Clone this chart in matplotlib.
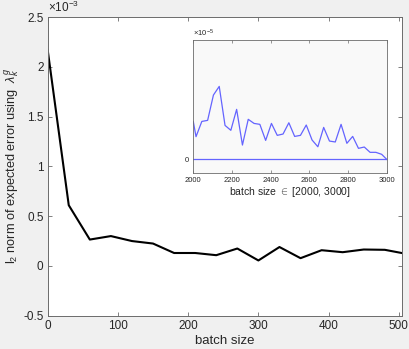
import matplotlib
matplotlib.use("Agg")
import matplotlib.pyplot as plt

plt.rcParams['font.family'] = ['Liberation Sans', 'DejaVu Sans']
plt.rcParams['mathtext.fontset'] = 'custom'
plt.rcParams['mathtext.rm'] = 'Liberation Sans'
plt.rcParams['mathtext.it'] = 'Liberation Sans:italic'

# main series (values in units of 1e-3)
batch_main = [0, 30, 60, 90, 120, 150, 180, 210, 240, 270, 300, 330, 360, 390, 420, 450, 480, 504]
err_main = [2.17, 0.61, 0.265, 0.30, 0.25, 0.225, 0.13, 0.13, 0.108, 0.175, 0.055, 0.19,
            0.078, 0.158, 0.138, 0.165, 0.162, 0.13]
main_xticks = [0, 100, 200, 300, 400, 500]
main_yticks = [-0.5, 0, 0.5, 1, 1.5, 2, 2.5]
main_yticklabels = ['-0.5', '0', '0.5', '1', '1.5', '2', '2.5']

# inset series (values in units of 1e-5)
batch_inset = [2000, 2014, 2044, 2074, 2104, 2134, 2164, 2194, 2224, 2254, 2284, 2314, 2344,
               2374, 2404, 2434, 2464, 2494, 2524, 2554, 2584, 2614, 2644, 2674, 2704, 2734,
               2764, 2794, 2824, 2854, 2884, 2914, 2944, 2974, 3000]
err_inset = [0.284, 0.171, 0.286, 0.294, 0.485, 0.550, 0.256, 0.219, 0.377, 0.108, 0.302,
             0.271, 0.264, 0.143, 0.271, 0.181, 0.191, 0.276, 0.173, 0.181, 0.259, 0.146,
             0.095, 0.241, 0.138, 0.131, 0.264, 0.121, 0.173, 0.083, 0.093, 0.053, 0.053,
             0.038, 0.0]
inset_zero = [0.0, 0.0]
inset_xticks = [2000, 2200, 2400, 2600, 2800, 3000]

fig = plt.figure(figsize=(4.10, 3.49), dpi=100, facecolor='#f0f0f0')
spine_c = '#6b6b6b'

ax = fig.add_axes([0.1163, 0.0954, 0.8634, 0.8556])
ax.plot(batch_main, err_main, color='black', lw=1.5)
ax.set_xlim(0, 504)
ax.set_ylim(-0.5, 2.5)
ax.set_xticks(main_xticks)
ax.set_yticks(main_yticks)
ax.set_yticklabels(main_yticklabels)
ax.tick_params(direction='in', length=3, width=0.6, colors=spine_c, labelcolor='#262626',
               labelsize=8.5, top=True, right=True, pad=3)
for s in ax.spines.values():
    s.set_color(spine_c)
    s.set_linewidth(0.7)
ax.set_xlabel('batch size', fontsize=9.5, color='#262626', labelpad=2)
ax.set_ylabel(r'l$_2$ norm of expected error using  $\lambda_k^g$', fontsize=9.2,
              color='#262626', labelpad=1)
ax.text(0.0, 1.008, r'$\times10^{-3}$', transform=ax.transAxes, fontsize=8.5,
        color='#262626', ha='left', va='bottom')

axi = fig.add_axes([0.4715, 0.505, 0.4717, 0.380], facecolor='#f9f9f9')
axi.plot(batch_inset, err_inset, color='#6464ff', lw=0.9)
axi.plot([2000, 3000], inset_zero, color='#6464ff', lw=0.9)
axi.set_xlim(2000, 3000)
axi.set_ylim(-0.101, 0.899)
axi.set_xticks(inset_xticks)
axi.set_yticks([0])
axi.tick_params(direction='in', length=2.5, width=0.5, colors=spine_c, labelcolor='#262626',
                labelsize=5.5, top=True, right=True, pad=3)
for s in axi.spines.values():
    s.set_color(spine_c)
    s.set_linewidth(0.6)
axi.set_xlabel(r'batch size $\in$ [2000, 3000]', fontsize=7.5, color='#262626', labelpad=1)
axi.text(0.0, 1.01, r'$\times10^{-5}$', transform=axi.transAxes, fontsize=5.5,
         color='#262626', ha='left', va='bottom')

fig.savefig('out.png', dpi=100, facecolor=fig.get_facecolor())
